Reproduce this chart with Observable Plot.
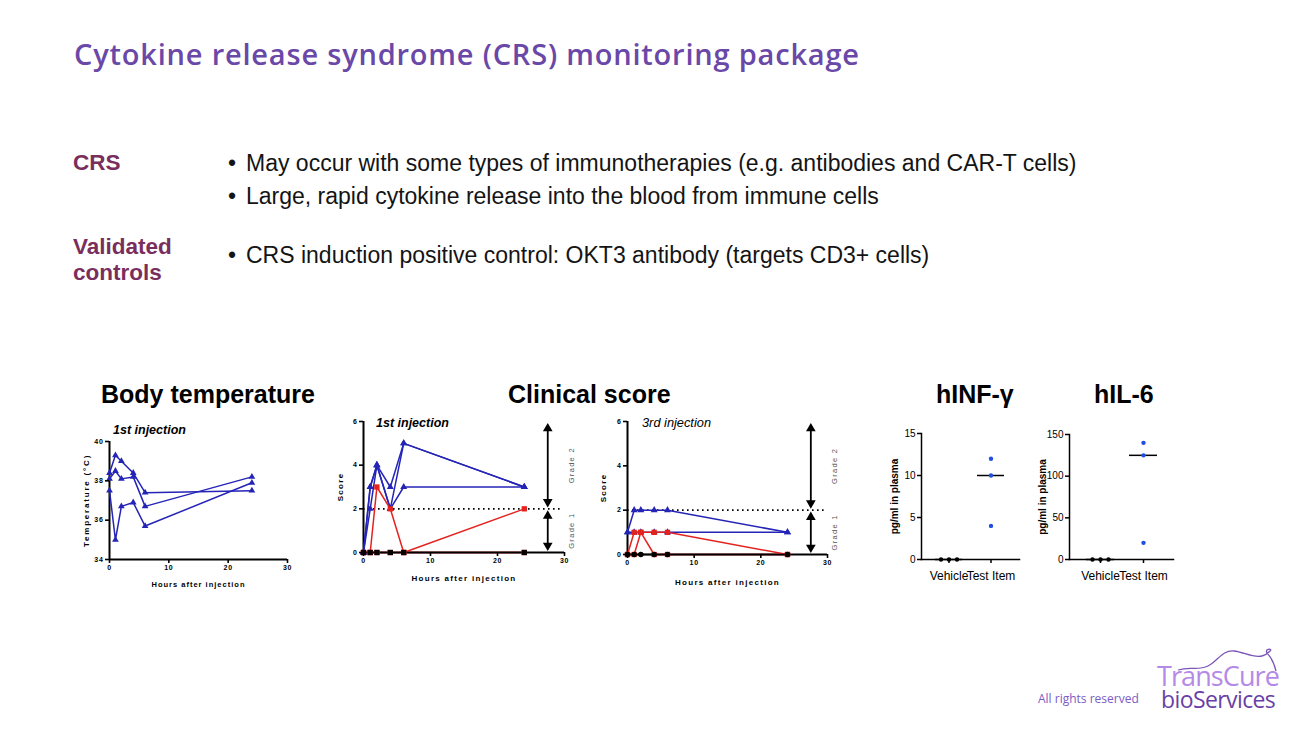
<!DOCTYPE html>
<html>
<head>
<meta charset="utf-8">
<script src="https://cdn.jsdelivr.net/npm/d3@7"></script>
<script src="https://cdn.jsdelivr.net/npm/@observablehq/plot@0.6"></script>
<style>
html,body{margin:0;padding:0;background:#fff;}
#page{position:relative;width:1310px;height:737px;overflow:hidden;background:#fff;font-family:"Liberation Sans",Arial,sans-serif;}
.t{position:absolute;white-space:nowrap;line-height:1;}
.title{font-family:"Open Sans",sans-serif;font-weight:600;font-size:29px;letter-spacing:0.8px;color:#6a48a8;left:74px;top:39px;}
.lab{font-weight:bold;font-size:22.5px;color:#7a2e5c;}
.bul{font-size:23px;color:#141414;}
.ct{font-weight:bold;font-size:25px;color:#000;}
.inj{font-size:12.5px;color:#000;font-style:italic;}
.chart{position:absolute;}
.chart svg{overflow:visible;}
.prism g[aria-label="x-axis tick label"] text,.prism g[aria-label="y-axis tick label"] text{letter-spacing:0.7px;}
.prism g[aria-label="x-axis label"] text{font-size:8px;letter-spacing:1.3px;}
.prism g[aria-label="y-axis label"] text{font-size:8px;letter-spacing:1.3px;}
.prism g[aria-label="text"] text{letter-spacing:1.3px;}
.temp g[aria-label="x-axis label"] text{font-size:7.5px;letter-spacing:1px;}
.temp g[aria-label="y-axis label"] text{font-size:8px;letter-spacing:1.8px;}
.cyto g[aria-label="y-axis label"] text{font-weight:bold;}
.foot{font-family:"Open Sans",sans-serif;font-weight:500;font-size:12px;color:#7b5bc4;left:1038px;top:693px;}
.logo{font-family:"Open Sans",sans-serif;font-weight:500;left:1157px;top:665px;}
.logo span{display:block;}
.logo .l1{font-size:27px;line-height:22px;color:#b58ae6;letter-spacing:-0.9px;}
.logo .l2{font-size:23px;line-height:20px;color:#6a3fa5;letter-spacing:-0.6px;margin-left:4px;margin-top:2px;}
</style>
</head>
<body>
<div id="page">
  <div class="t title">Cytokine release syndrome (CRS) monitoring package</div>
  <div class="t lab" style="left:73px;top:152px;">CRS</div>
  <div class="t lab" style="left:73px;top:236px;">Validated</div>
  <div class="t lab" style="left:73px;top:262px;">controls</div>
  <div class="t bul" style="left:228px;top:152px;">•</div>
  <div class="t bul" style="left:246px;top:152px;">May occur with some types of immunotherapies (e.g. antibodies and CAR-T cells)</div>
  <div class="t bul" style="left:228px;top:185px;">•</div>
  <div class="t bul" style="left:246px;top:185px;">Large, rapid cytokine release into the blood from immune cells</div>
  <div class="t bul" style="left:228px;top:244px;">•</div>
  <div class="t bul" style="left:246px;top:244px;">CRS induction positive control: OKT3 antibody (targets CD3+ cells)</div>

  <div class="t ct" style="left:101px;top:382px;">Body temperature</div>
  <div class="t ct" style="left:508px;top:382px;">Clinical score</div>
  <div class="t ct" style="left:936px;top:382px;">hINF-γ</div>
  <div class="t ct" style="left:1094px;top:382px;">hIL-6</div>

  <div class="t inj" style="left:113px;top:424px;font-weight:bold;">1st injection</div>
  <div class="t inj" style="left:376px;top:417px;font-weight:bold;">1st injection</div>
  <div class="t inj" style="left:642px;top:417px;font-size:12.8px;">3rd injection</div>

  <div class="t foot">All rights reserved</div>
  <svg style="position:absolute;left:1172px;top:644px;" width="110" height="32">
    <path d="M6,26 C18,22 26,27 36,22 C46,17 50,6 62,7 C72,8 80,14 90,12 C95,11 97,8 99,6 M99,6 C97,4 93,6 95,9 C97,12 101,14 104,27" fill="none" stroke="#7a55b8" stroke-width="1.3"/>
  </svg>
  <div class="t logo"><span class="l1">TransCure</span><span class="l2">bioServices</span></div>
</div>
<script>
// ---------------- data ----------------
const hours = [0, 1, 2, 4, 6, 24];
const hourTicks = [0, 10, 20, 30];

const tempAnimals = ["Animal 1", "Animal 2", "Animal 3"];
const temp1 = [38.4, 39.3, 39.0, 38.4, 37.4, 37.5];
const temp2 = [38.1, 38.5, 38.1, 38.2, 36.7, 38.2];
const temp3 = [37.5, 35.0, 36.7, 36.9, 35.7, 37.9];
const tempTicks = [34, 36, 38, 40];

const scoreGroups = ["Group A", "Group B", "Group C"];
const score1A1 = [0, 3, 4, 3, 5, 3];
const score1A2 = [0, 2, 4, 2, 3, 3];
const score1A3 = [0, 3, 4, 2, 5, 3];
const score1B1 = [0, 0, 3, 2, 0, 2];
const score1B2 = [0, 0, 0, 0, 0, 0];
const score1C1 = [0, 0, 0, 0, 0, 0];
const score3A1 = [1, 2, 2, 2, 2, 1];
const score3A2 = [1, 1, 1, 1, 1, 1];
const score3B1 = [0, 1, 1, 1, 1, 0];
const score3B2 = [0, 0, 1, 0, 0, 0];
const score3C1 = [0, 0, 0, 0, 0, 0];
const scoreTicks = [0, 2, 4, 6];

const gradeNames = ["Grade 1", "Grade 2"];
const gradeFrom = [0, 2];
const gradeTo = [2, 6];
const gradeArrowHour = 27.5;
const gradeThreshold = 2;
const thresholdExtent = [0, 29.5];

const cytoGroups = ["Vehicle", "Test Item"];
const ifnVehicle = [0, 0, 0];
const ifnTest = [12, 10, 4];
const ifnTicks = [0, 5, 10, 15];
const il6Vehicle = [0, 0, 0];
const il6Test = [140, 125, 20];
const il6Ticks = [0, 50, 100, 150];

// ---------------- helpers ----------------
const C_BLUE = "#2424b6", C_RED = "#e4231f", C_BLACK = "#000", C_DOT = "#1f4fe0";
const page = document.getElementById("page");
const intFmt = d3.format("d");
const baseStyle = {fontFamily: "Liberation Sans, Arial, sans-serif", color: "#000", background: "transparent", overflow: "visible"};
const toRows = (vals, group, id) => hours.map((h, i) => ({h, v: vals[i], group, id}));
function mount(svg, left, top, cls = "") {
  const d = document.createElement("div");
  d.className = "chart " + cls;
  d.style.left = left + "px";
  d.style.top = top + "px";
  d.appendChild(svg);
  page.appendChild(d);
}
const gradeRows = gradeNames.map((g, i) => ({grade: g, from: gradeFrom[i], to: gradeTo[i], mid: (gradeFrom[i] + gradeTo[i]) / 2, x: gradeArrowHour}));

function prismAxisX(labelOffset) {
  return Plot.axisX({ticks: hourTicks, tickFormat: intFmt, tickSize: 4, tickPadding: 2, strokeWidth: 1.6, fontSize: 7, fontWeight: "bold",
    label: "Hours after injection", labelAnchor: "center", labelArrow: "none", labelOffset});
}

// ---------------- chart 1: body temperature ----------------
const tempRows = [temp1, temp2, temp3].flatMap((vals, k) => toRows(vals, "temp", tempAnimals[k]));
mount(Plot.plot({
  width: 230, height: 175, marginLeft: 39, marginRight: 13, marginTop: 21, marginBottom: 36,
  style: baseStyle,
  x: {domain: [hourTicks[0], hourTicks[hourTicks.length - 1]]},
  y: {domain: [tempTicks[0], tempTicks[tempTicks.length - 1]]},
  marks: [
    Plot.ruleX([hourTicks[0]], {stroke: "#000", strokeWidth: 2}),
    Plot.ruleY([tempTicks[0]], {stroke: "#000", strokeWidth: 2}),
    Plot.line(tempRows, {x: "h", y: "v", z: "id", stroke: C_BLUE, strokeWidth: 1.5}),
    Plot.dot(tempRows, {x: "h", y: "v", symbol: "triangle", fill: C_BLUE, r: 2.5}),
    prismAxisX(27),
    Plot.axisY({ticks: tempTicks, tickFormat: intFmt, tickSize: 4, tickPadding: 2, strokeWidth: 1.6, fontSize: 7, fontWeight: "bold",
      label: "Temperature (°C)", labelAnchor: "center", labelArrow: "none", labelOffset: 26})
  ]
}), 70, 420, "prism temp");

// ---------------- charts 2 & 3: clinical score ----------------
function scoreChart({rows, blackSymbol, width, height, margins, yLabelOffset, xLabelOffset}) {
  const blue = rows.filter(d => d.group === scoreGroups[0]);
  const red = rows.filter(d => d.group === scoreGroups[1]);
  const black = rows.filter(d => d.group === scoreGroups[2]);
  return Plot.plot({
    width, height, ...margins, style: baseStyle,
    x: {domain: [hourTicks[0], hourTicks[hourTicks.length - 1]]},
    y: {domain: [scoreTicks[0], scoreTicks[scoreTicks.length - 1]]},
    color: {domain: scoreGroups, range: [C_BLUE, C_RED, C_BLACK]},
    marks: [
      Plot.ruleY([gradeThreshold], {x1: thresholdExtent[0], x2: thresholdExtent[1], stroke: "#000", strokeWidth: 1.8, strokeDasharray: "1.6,3.4"}),
      Plot.arrow(gradeRows, {x1: "x", x2: "x", y1: "from", y2: "to", headLength: 0, inset: 6, stroke: "#000", strokeWidth: 1.8}),
      Plot.dot(gradeRows, {x: "x", y: "to", symbol: "triangle", r: 3.6, fill: "#000", dy: 7}),
      Plot.dot(gradeRows, {x: "x", y: "from", symbol: "triangle", rotate: 180, r: 3.6, fill: "#000", dy: -7}),
      Plot.text(gradeRows, {y: "mid", text: "grade", frameAnchor: "right", textAnchor: "middle", lineAnchor: "middle",
        dx: 7, rotate: -90, fontSize: 7.5, fill: "#555"}),
      Plot.ruleX([hourTicks[0]], {stroke: "#000", strokeWidth: 2}),
      Plot.ruleY([scoreTicks[0]], {stroke: "#000", strokeWidth: 2}),
      Plot.line(rows, {x: "h", y: "v", z: "id", stroke: "group", strokeWidth: 1.5}),
      Plot.dot(blue, {x: "h", y: "v", symbol: "triangle", fill: C_BLUE, r: 2.6}),
      Plot.dot(red, {x: "h", y: "v", symbol: "square", fill: C_RED, r: 3}),
      Plot.dot(black, {x: "h", y: "v", symbol: blackSymbol, fill: C_BLACK, r: blackSymbol === "circle" ? 2.8 : 3}),
      prismAxisX(xLabelOffset),
      Plot.axisY({ticks: scoreTicks, tickFormat: intFmt, tickSize: 4, tickPadding: 2, strokeWidth: 1.6, fontSize: 7, fontWeight: "bold",
        label: "Score", labelAnchor: "center", labelArrow: "none", labelOffset: yLabelOffset})
    ]
  });
}
const score1Rows = [
  ...toRows(score1A1, scoreGroups[0], "a1"), ...toRows(score1A2, scoreGroups[0], "a2"), ...toRows(score1A3, scoreGroups[0], "a3"),
  ...toRows(score1B1, scoreGroups[1], "b1"), ...toRows(score1B2, scoreGroups[1], "b2"),
  ...toRows(score1C1, scoreGroups[2], "c1")
];
const score3Rows = [
  ...toRows(score3A1, scoreGroups[0], "a1"), ...toRows(score3A2, scoreGroups[0], "a2"),
  ...toRows(score3B1, scoreGroups[1], "b1"), ...toRows(score3B2, scoreGroups[1], "b2"),
  ...toRows(score3C1, scoreGroups[2], "c1")
];
mount(scoreChart({rows: score1Rows, blackSymbol: "square",
  width: 260, height: 180, margins: {marginLeft: 33, marginRight: 26, marginTop: 11, marginBottom: 38},
  yLabelOffset: 26, xLabelOffset: 28}), 330, 410, "prism");
mount(scoreChart({rows: score3Rows, blackSymbol: "circle",
  width: 260, height: 180, margins: {marginLeft: 37, marginRight: 23, marginTop: 11, marginBottom: 36},
  yLabelOffset: 27, xLabelOffset: 30}), 590, 410, "prism");

// ---------------- charts 4 & 5: cytokines ----------------
function cytoChart({veh, test, ticks, width, height, margins, paddingOuter}) {
  const rows = [
    ...veh.map((v, i) => ({group: cytoGroups[0], v, rep: i})),
    ...test.map((v, i) => ({group: cytoGroups[1], v, rep: i}))
  ];
  // spread tied values side by side (scatter-dot style)
  const tied = d3.group(rows, d => d.group, d => d.v);
  for (const [, byV] of tied) for (const [, arr] of byV) arr.forEach((d, k) => d.off = (k - (arr.length - 1) / 2) * 8);
  const offs = Array.from(new Set(rows.map(d => d.off)));
  const dotMarks = offs.map(o => Plot.dot(rows.filter(d => d.off === o), {
    x: "group", y: "v", dx: o, r: 2.2, fill: d => d.group === cytoGroups[0] ? C_BLACK : C_DOT
  }));
  return Plot.plot({
    width, height, ...margins, style: baseStyle,
    x: {domain: cytoGroups, paddingInner: 0.35, paddingOuter, label: null},
    y: {domain: [ticks[0], ticks[ticks.length - 1]]},
    marks: [
      Plot.frame({anchor: "left", strokeWidth: 1.5}),
      Plot.frame({anchor: "bottom", strokeWidth: 1.5}),
      Plot.tickY(rows, Plot.groupX({y: "median"}, {x: "group", y: "v", stroke: "#000", strokeWidth: 1.5})),
      ...dotMarks,
      Plot.axisY({ticks, tickFormat: intFmt, tickSize: 4, tickPadding: 2, strokeWidth: 1.5, fontSize: 10,
        label: "pg/ml in plasma", labelAnchor: "center", labelArrow: "none", labelOffset: 31}),
      Plot.axisX({tickSize: 4, tickPadding: 8, strokeWidth: 1.5, fontSize: 12, label: null})
    ]
  });
}
mount(cytoChart({veh: ifnVehicle, test: ifnTest, ticks: ifnTicks, width: 150, height: 175,
  margins: {marginLeft: 41, marginRight: 11, marginTop: 13, marginBottom: 36}, paddingOuter: 0.315}), 880, 420, "cyto");
mount(cytoChart({veh: il6Vehicle, test: il6Test, ticks: il6Ticks, width: 150, height: 175,
  margins: {marginLeft: 39, marginRight: 7, marginTop: 14, marginBottom: 36}, paddingOuter: 0.384}), 1030, 420, "cyto");
</script>
</body>
</html>
